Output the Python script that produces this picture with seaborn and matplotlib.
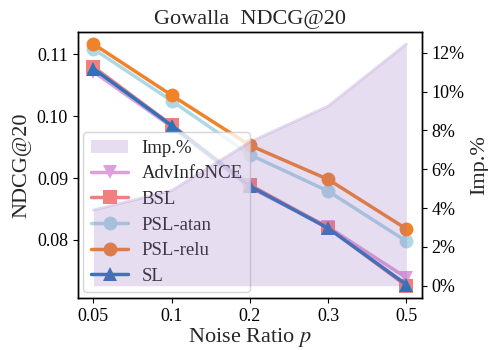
import numpy as np
import pandas as pd
import matplotlib
matplotlib.use("Agg")
import matplotlib.pyplot as plt
from matplotlib.patches import Patch
import seaborn as sns

noise = ["0.05", "0.1", "0.2", "0.3", "0.5"]
advinfonce = [0.1072, 0.0983, 0.0885, 0.0821, 0.0739]
bsl = [0.1080, 0.0986, 0.0889, 0.0820, 0.0726]
psl_atan = [0.1109, 0.1025, 0.0938, 0.0879, 0.0798]
psl_relu = [0.1117, 0.1034, 0.0953, 0.0898, 0.0818]
sl = [0.1077, 0.0985, 0.0887, 0.0819, 0.0728]
imp = [3.9, 4.9, 7.4, 9.25, 12.45]

methods = ["AdvInfoNCE", "BSL", "PSL-atan", "PSL-relu", "SL"]
series = [advinfonce, bsl, psl_atan, psl_relu, sl]

rows = []
for m, vals in zip(methods, series):
    for x, v in zip(noise, vals):
        rows.append({"Noise": x, "NDCG@20": v, "Method": m})
df = pd.DataFrame(rows)

sns.set_style("ticks")
plt.rcParams["font.family"] = ["Liberation Serif", "DejaVu Serif"]
plt.rcParams["mathtext.fontset"] = "stix"
for a in ("xtick", "ytick"):
    plt.rcParams[f"{a}.major.size"] = 3.5
    plt.rcParams[f"{a}.major.pad"] = 3.5
    plt.rcParams[f"{a}.major.width"] = 0.8
    plt.rcParams[f"{a}.color"] = "black"
plt.rcParams["axes.edgecolor"] = "black"
plt.rcParams["axes.linewidth"] = 1.0

palette = {"AdvInfoNCE": "#DDA0DD", "BSL": "#F08080", "PSL-atan": "#ADD8E6",
           "PSL-relu": "#F0832A", "SL": "#2F72B8"}
markers = {"AdvInfoNCE": "v", "BSL": "s", "PSL-atan": "o", "PSL-relu": "o", "SL": "^"}

fig = plt.figure(figsize=(4.89, 3.5), dpi=100)
ax = fig.add_axes([0.159, 0.149, 0.704, 0.760])

sns.lineplot(data=df, x="Noise", y="NDCG@20", hue="Method", style="Method",
             palette=palette, markers=markers, dashes=False, linewidth=2.5,
             markersize=10, markeredgewidth=0, ax=ax, sort=False)

handles, labels = ax.get_legend_handles_labels()
ax.get_legend().remove()

ax2 = ax.twinx()
fill_color = "#9467BD"
ax2.fill_between(noise, 0, imp, color=fill_color, alpha=0.22, linewidth=0)
ax2.plot(noise, imp, color=fill_color, alpha=0.25, linewidth=2)
ax2.yaxis.set_major_formatter(matplotlib.ticker.FuncFormatter(lambda v, p: f"{v:.0f}%"))
ax2.set_yticks([0, 2, 4, 6, 8, 10, 12])
ax2.set_ylabel("Imp.%", fontsize=16)
ax2.tick_params(labelsize=13, direction="out")

ax.set_yticks([0.08, 0.09, 0.10, 0.11])
ax.set_yticklabels(["0.08", "0.09", "0.10", "0.11"])
ax.set_xlabel("Noise Ratio $p$", fontsize=16, labelpad=1)
ax.set_ylabel("NDCG@20", fontsize=16)
ax.set_title("Gowalla  NDCG@20", fontsize=16)
ax.tick_params(labelsize=13, direction="out")

imp_patch = Patch(facecolor=fill_color, alpha=0.22, edgecolor="none", label="Imp.%")
for h in handles:
    try:
        h.set_linewidth(2.5)
        h.set_markersize(10)
    except Exception:
        pass
ax.legend([imp_patch] + handles, ["Imp.%"] + labels, loc="lower left",
          fontsize=13.5, frameon=True, framealpha=0.8, labelspacing=0.45,
          handlelength=2.0, handletextpad=0.7, borderaxespad=0.3)

fig.savefig("out.png", dpi=100)
